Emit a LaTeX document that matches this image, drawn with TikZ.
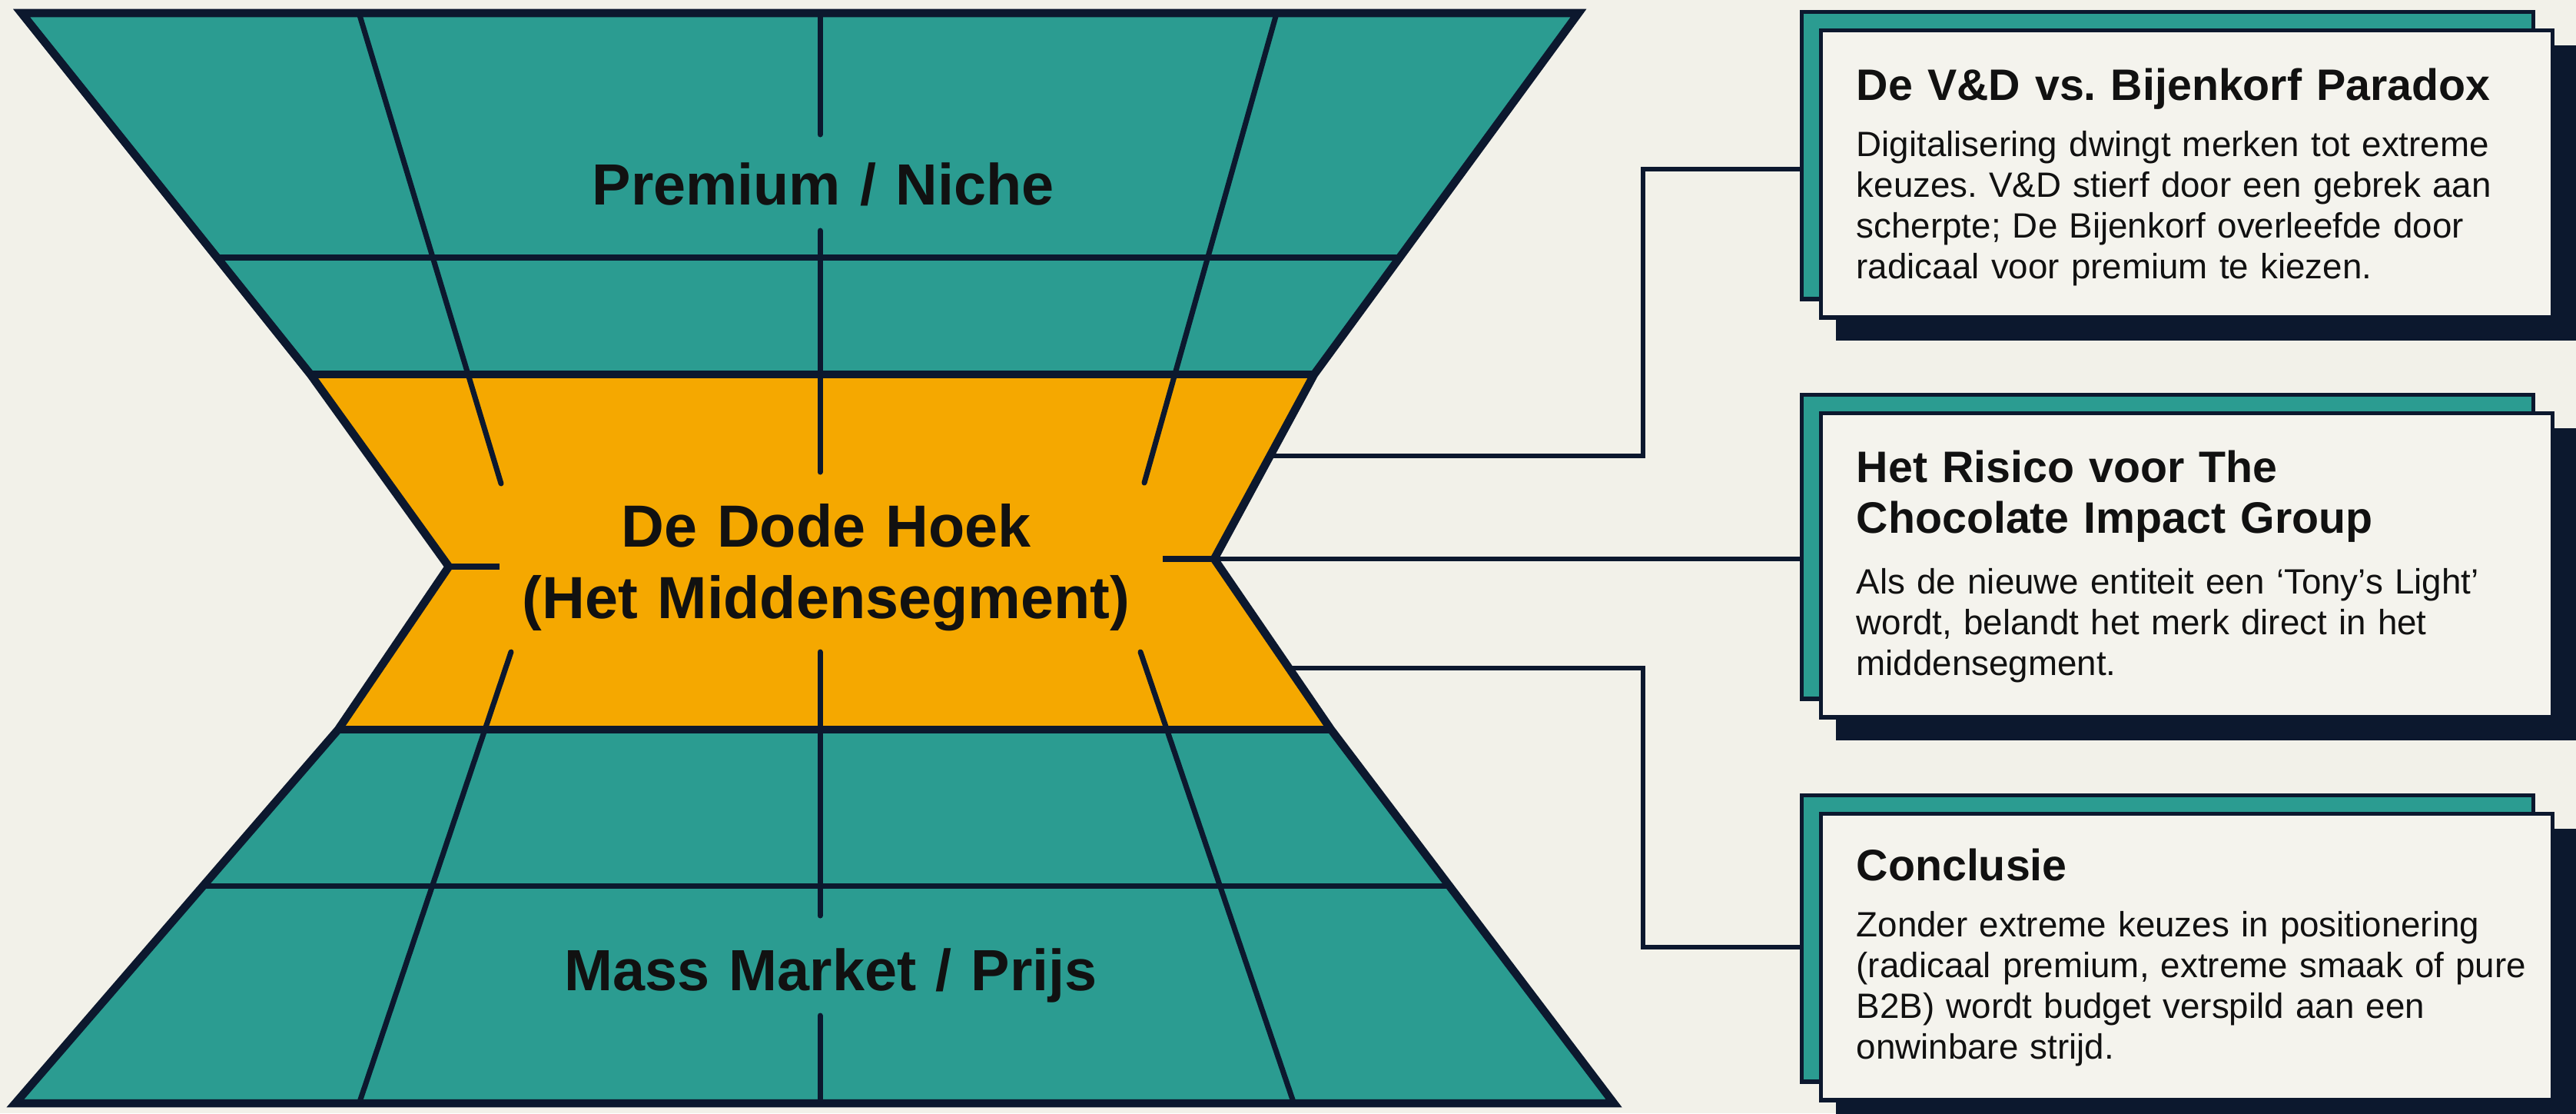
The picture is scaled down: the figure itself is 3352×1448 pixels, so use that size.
\documentclass[tikz,border=0pt]{standalone}
\usepackage{fontspec}
\setmainfont{Liberation Sans}
\frenchspacing
\usetikzlibrary{calc}
\definecolor{tealc}{RGB}{43,156,145}
\definecolor{orangec}{RGB}{245,168,0}
\definecolor{navyc}{RGB}{12,24,46}
\definecolor{creamc}{RGB}{242,241,233}
\definecolor{boxc}{RGB}{244,243,237}
\definecolor{inkc}{RGB}{17,17,17}
\begin{document}
\begin{tikzpicture}[x=0.01cm,y=-0.01cm,
  outline/.style={draw=navyc,line width=3pt,line join=miter},
  gridline/.style={draw=navyc,line width=2pt,line cap=round},
  tick/.style={draw=navyc,line width=2.5pt},
  conn/.style={draw=navyc,line width=1.5pt},
  backbox/.style={draw=navyc,fill=tealc,line width=1.5pt,inner sep=0,minimum width=9.51cm},
  frontbox/.style={draw=navyc,fill=boxc,line width=1.5pt,inner sep=0,minimum width=9.51cm},
  biglabel/.style={font=\fontsize{21.5pt}{26.5pt}\selectfont\bfseries,text=inkc,inner sep=0,text width=10cm,align=center},
  titlef/.style={font=\fontsize{16.3pt}{18.8pt}\selectfont\bfseries,text=inkc,inner sep=0,text width=8.9cm,align=left},
  bodyf/.style={font=\fontsize{13pt}{15.08pt}\selectfont,text=inkc,inner sep=0,text width=8.9cm,align=left}]
\fill[creamc] (0,0) rectangle (3352,1448);
\useasboundingbox (0,0) rectangle (3352,1448);

% outline points of the hourglass
\coordinate (TL) at (28,17);
\coordinate (TR) at (2054,17);
\coordinate (R1) at (1710,487);
\coordinate (WR) at (1580,727);
\coordinate (R2) at (1732,949);
\coordinate (BR) at (2100,1435);
\coordinate (BL) at (20,1435);
\coordinate (L2) at (440,949);
\coordinate (WL) at (584,737);
\coordinate (L1) at (404,487);

\fill[tealc] (TL)--(TR)--(R1)--(L1)--cycle;
\fill[orangec] (L1)--(R1)--(WR)--(R2)--(L2)--(WL)--cycle;
\fill[tealc] (L2)--(R2)--(BR)--(BL)--cycle;

\begin{scope}
  \clip (TL)--(TR)--(R1)--(WR)--(R2)--(BR)--(BL)--(L2)--(WL)--(L1)--cycle;
  \draw[gridline] (0,335) -- (2200,335);
  \draw[gridline] (0,1152) -- (2200,1152);
  \draw[gridline] (462,0) -- (652,629);
  \draw[gridline] (1666,0) -- (1489,628);
  \draw[gridline] (665,848) -- (463,1448);
  \draw[gridline] (1484,848) -- (1688,1448);
  \draw[gridline] (1067,0) -- (1067,175);
  \draw[gridline] (1067,300) -- (1067,614);
  \draw[gridline] (1067,848) -- (1067,1191);
  \draw[gridline] (1067,1321) -- (1067,1448);
  \draw[tick] (WL) -- (650,737);
  \draw[tick] (1513,727) -- (WR);
\end{scope}
\draw[outline] (L1) -- (R1);
\draw[outline] (L2) -- (R2);
\draw[outline] (TL)--(TR)--(R1)--(WR)--(R2)--(BR)--(BL)--(L2)--(WL)--(L1)--cycle;

\node[biglabel,anchor=base] (premium) at (1071,266) {Premium / Niche};
\node[biglabel,anchor=base,font=\fontsize{22pt}{26.5pt}\selectfont\bfseries] (dode) at (1075,711) {De Dode Hoek\\(Het Middensegment)};
\node[biglabel,anchor=base] (mass) at (1081,1288) {Mass Market / Prijs};

% boxes
\node[backbox,minimum height=3.73cm,anchor=north west] (back1) at (2342,13) {};
\filldraw[navyc,line width=1.5pt] ([shift={(50,49)}]back1.north west) rectangle ([shift={(50,49)}]back1.south east);
\node[frontbox,minimum height=3.73cm,anchor=north west] (box1) at (2367,37) {};

\node[backbox,minimum height=3.95cm,anchor=north west] (back2) at (2342,511) {};
\filldraw[navyc,line width=1.5pt] ([shift={(50,49)}]back2.north west) rectangle ([shift={(50,49)}]back2.south east);
\node[frontbox,minimum height=3.95cm,anchor=north west] (box2) at (2367,535) {};

\node[backbox,minimum height=3.72cm,anchor=north west] (back3) at (2342,1032) {};
\filldraw[navyc,line width=1.5pt] ([shift={(50,49)}]back3.north west) rectangle ([shift={(50,49)}]back3.south east);
\node[frontbox,minimum height=3.72cm,anchor=north west] (box3) at (2367,1056) {};

% box texts
\node[titlef,anchor=base west] (t1) at (2415,130) {De V\&D vs. Bijenkorf Paradox};
\node[bodyf,anchor=base west] (d1) at (2415,203) {Digitalisering dwingt merken tot extreme\\keuzes. V\&D stierf door een gebrek aan\\scherpte; De Bijenkorf overleefde door\\radicaal voor premium te kiezen.};

\node[titlef,anchor=base west] (t2) at (2415,627) {Het Risico voor The\\Chocolate Impact Group};
\node[bodyf,anchor=base west] (d2) at (2415,772) {Als de nieuwe entiteit een ‘Tony’s Light’\\wordt, belandt het merk direct in het\\middensegment.};

\node[titlef,anchor=base west] (t3) at (2415,1145) {Conclusie};
\node[bodyf,anchor=base west] (d3) at (2415,1218) {Zonder extreme keuzes in positionering\\(radicaal premium, extreme smaak of pure\\B2B) wordt budget verspild aan een\\onwinbare strijd.};

% connectors
\coordinate (e1) at (1653,593);
\coordinate (e3) at (1677,869);
\coordinate (j1) at (2138,220);
\coordinate (j3) at (2138,1232);
\coordinate (k1) at (2342,220);
\coordinate (k2) at (2342,727);
\coordinate (k3) at (2342,1232);
\draw[conn] (e1) -| (j1) -- (k1);
\draw[conn] (WR) -- (k2);
\draw[conn] (e3) -| (j3) -- (k3);
\end{tikzpicture}
\end{document}
